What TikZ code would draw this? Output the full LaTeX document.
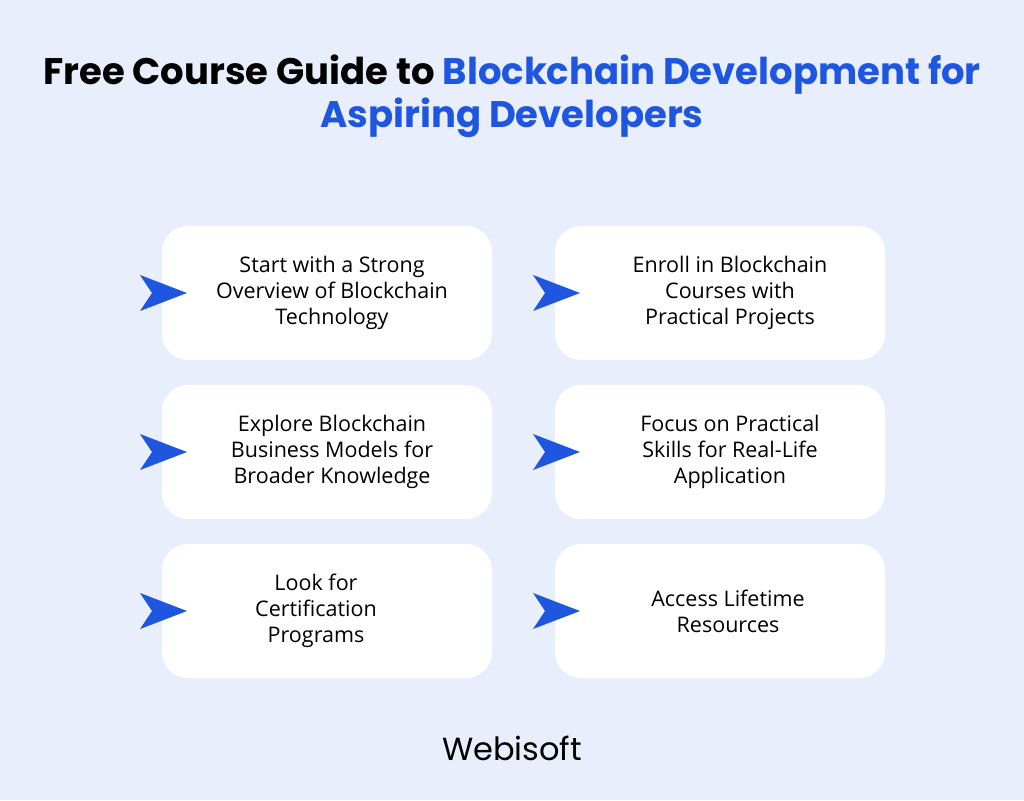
\documentclass[tikz,border=0pt]{standalone}
\usepackage{fontspec}
\setmainfont{Open Sans}
\newfontfamily\pop{Poppins}
\definecolor{bg}{HTML}{E8EEFB}
\definecolor{blu}{HTML}{1F56E0}
\begin{document}
\begin{tikzpicture}[x=1pt,y=-1pt,
 card/.style={fill=white,rounded corners=26pt,minimum width=330pt,minimum height=134pt,draw=none},
 txt/.style={align=center,font=\fontsize{21.5}{26}\selectfont,text=black},
 chev/.style={fill=blu}]
\fill[bg] (0,0) rectangle (1024,800);
\useasboundingbox (0,0) rectangle (1024,800);
\node[font=\pop\bfseries\fontsize{37}{43}\selectfont,align=center] (title) at (512,96)
 {Free Course Guide to \textcolor{blu}{Blockchain Development for}\\\textcolor{blu}{Aspiring Developers}};
\foreach \n/\x/\y/\dx/\t in {a/327/293/5/{Start with a Strong\\Overview of Blockchain\\Technology},
 b/720/293/10/{Enroll in Blockchain\\Courses with\\Practical Projects},
 c/327/452/5/{Explore Blockchain\\Business Models for\\Broader Knowledge},
 d/720/452/10/{Focus on Practical\\Skills for Real-Life\\Application},
 e/327/611/-11/{Look for\\Certification\\Programs},
 f/720/611/8/{Access Lifetime\\Resources}}{
 \node[card] (\n) at (\x,\y) {};
 \node[txt] (\n t) at (\x+\dx,\y) {\t};
 \fill[chev] (\x-187,\y-18) -- (\x-140,\y) -- (\x-187,\y+18) -- (\x-175,\y) -- cycle;
}
\node[font=\pop\fontsize{32}{36}\selectfont] (logo) at (512,748) {Webisoft};
\end{tikzpicture}
\end{document}
